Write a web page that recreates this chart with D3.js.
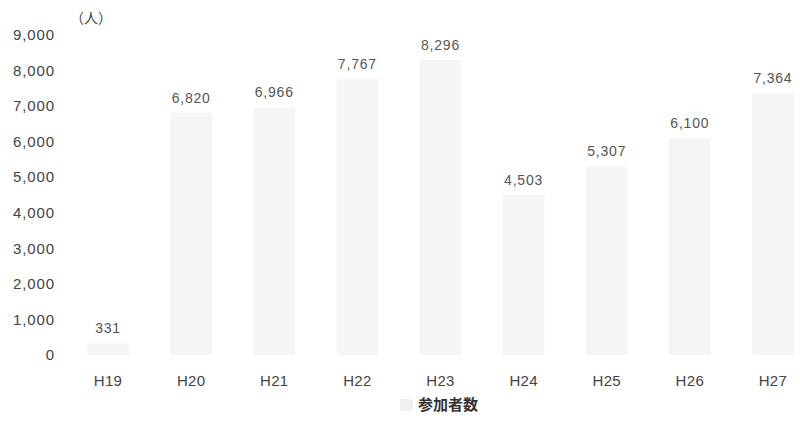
<!DOCTYPE html>
<html lang="ja">
<head>
    <meta charset="UTF-8">
    <title>参加者数</title>
    <script src="https://d3js.org/d3.v7.min.js"></script>
    <style>
        body { margin: 0; background: #fff; font-family: "Liberation Sans", "Noto Sans CJK JP", sans-serif; }
        .tick-y { font-size: 15px; fill: #444; letter-spacing: 0.9px; }
        .tick-x { font-size: 15px; fill: #444; letter-spacing: 0.3px; }
        .val { font-size: 14px; fill: #555; letter-spacing: 0.8px; }
    </style>
</head>
<body>
    <svg width="800" height="423"></svg>
    <script>
        // データ
        const years = ["H19", "H20", "H21", "H22", "H23", "H24", "H25", "H26", "H27"];
        const participants = [331, 6820, 6966, 7767, 8296, 4503, 5307, 6100, 7364];
        const yTicks = [0, 1000, 2000, 3000, 4000, 5000, 6000, 7000, 8000, 9000];

        const svg = d3.select("svg");

        const x = d3.scaleBand()
            .domain(years)
            .range([66.5, 814.5])
            .paddingInner(0.5)
            .paddingOuter(0.25);

        const y = d3.scaleLinear()
            .domain([0, 9000])
            .range([355, 35]);

        const fmt = d3.format(",");

        // 棒
        svg.append("g")
            .selectAll("rect")
            .data(participants)
            .join("rect")
            .attr("x", (d, i) => x(years[i]))
            .attr("width", x.bandwidth())
            .attr("y", d => y(d))
            .attr("height", d => y(0) - y(d))
            .attr("fill", "#f5f5f5");

        // 数値ラベル
        svg.append("g")
            .selectAll("text")
            .data(participants)
            .join("text")
            .attr("class", "val")
            .attr("x", (d, i) => x(years[i]) + x.bandwidth() / 2)
            .attr("y", d => y(d) - 10)
            .attr("text-anchor", "middle")
            .text(d => fmt(d));

        // Y軸
        svg.append("g")
            .selectAll("text")
            .data(yTicks)
            .join("text")
            .attr("class", "tick-y")
            .attr("x", 55)
            .attr("y", d => y(d))
            .attr("dy", "0.35em")
            .attr("text-anchor", "end")
            .text(d => fmt(d));

        svg.append("text")
            .attr("x", 70)
            .attr("y", 18)
            .attr("dy", "0.35em")
            .style("font-family", "'Noto Sans CJK JP', sans-serif")
            .style("font-size", "14px")
            .style("fill", "#444")
            .text("（人）");

        // X軸
        svg.append("g")
            .selectAll("text")
            .data(years)
            .join("text")
            .attr("class", "tick-x")
            .attr("x", d => x(d) + x.bandwidth() / 2)
            .attr("y", 381)
            .attr("dy", "0.35em")
            .attr("text-anchor", "middle")
            .text(d => d);

        // 凡例
        svg.append("rect")
            .attr("x", 400)
            .attr("y", 399)
            .attr("width", 13)
            .attr("height", 12)
            .attr("fill", "#f0f0f0");

        svg.append("text")
            .attr("x", 418)
            .attr("y", 405)
            .attr("dy", "0.35em")
            .style("font-family", "'Noto Sans CJK JP', sans-serif")
            .style("font-size", "15px")
            .style("font-weight", "bold")
            .style("fill", "#333")
            .text("参加者数");
    </script>
</body>
</html>
